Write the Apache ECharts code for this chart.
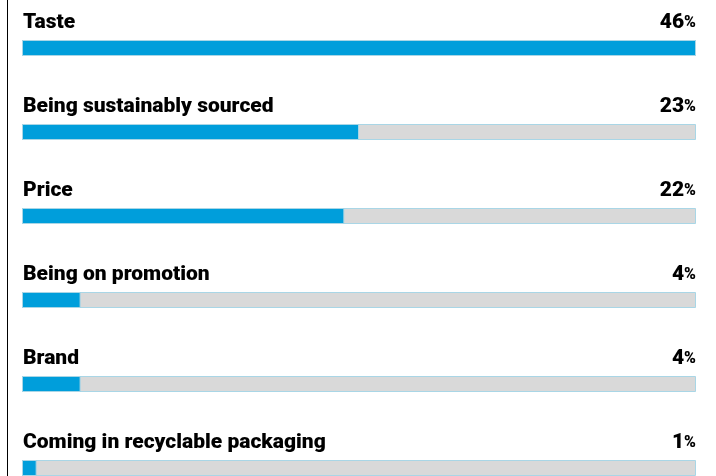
<!DOCTYPE html>
<html>
<head>
<meta charset="utf-8">
<script src="https://cdn.jsdelivr.net/npm/echarts@6/dist/echarts.min.js"></script>
<style>html,body{margin:0;padding:0;background:#fff;}#c{width:716px;height:476px;}</style>
</head>
<body>
<div id="c"></div>
<script>
const categories = ['Taste', 'Being sustainably sourced', 'Price', 'Being on promotion', 'Brand', 'Coming in recyclable packaging'];
const values = [46, 23, 22, 4, 4, 1];
const scaleMax = 46;

const FONT = 'Roboto';
const chart = echarts.init(document.getElementById('c'));
chart.setOption({
  animation: false,
  grid: { left: 22, right: 20, top: 6, height: 504, outerBoundsMode: 'none' },
  xAxis: { type: 'value', min: 0, max: scaleMax, show: false },
  yAxis: { type: 'category', data: categories, inverse: true, show: false },
  graphic: [{ type: 'line', shape: { x1: 7.5, y1: 0, x2: 7.5, y2: 476 }, style: { stroke: '#000', lineWidth: 1 } }],
  series: [
    {
      type: 'bar', barWidth: 16, silent: true,
      data: categories.map(() => scaleMax),
      itemStyle: { color: '#d9d9d9', borderColor: '#a9d6e6', borderWidth: 1 },
      label: {
        show: true, position: ['100%', -7], align: 'right', verticalAlign: 'bottom',
        formatter: (p) => '{n|' + values[p.dataIndex] + '}{p|%}',
        rich: {
          n: { fontFamily: FONT, fontWeight: 900, fontSize: 21, color: '#000', lineHeight: 21 },
          p: { fontFamily: FONT, fontWeight: 900, fontSize: 16, color: '#000', lineHeight: 21 }
        }
      }
    },
    {
      type: 'bar', barWidth: 16, barGap: '-100%', silent: true,
      data: values,
      itemStyle: { color: '#009edb', borderColor: '#a9d6e6', borderWidth: 1 },
      label: {
        show: true, position: [1, -7], align: 'left', verticalAlign: 'bottom',
        formatter: '{b}', fontFamily: FONT, fontWeight: 900, fontSize: 21, color: '#000', lineHeight: 21
      }
    }
  ]
});
</script>
</body>
</html>
